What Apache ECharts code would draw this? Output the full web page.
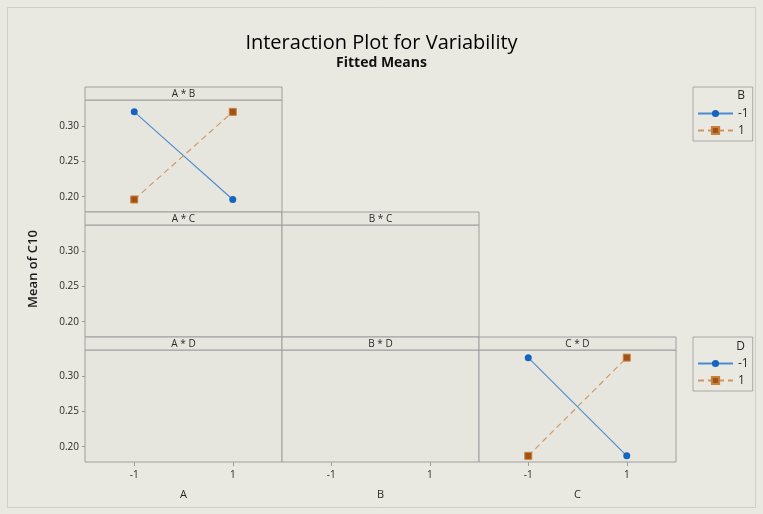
<!DOCTYPE html>
<html>
<head>
<meta charset="utf-8">
<script src="https://cdn.jsdelivr.net/npm/echarts@6/dist/echarts.min.js"></script>
<style>
  html, body { margin: 0; padding: 0; background: #E9E9E2; }
  #chart { width: 763px; height: 514px; }
</style>
</head>
<body>
<div id="chart"></div>
<script>
// Factor levels on every x axis
const xLevels = [-1, 1];
const xTickValues = [-1, 1];
const yTickValues = [0.20, 0.25, 0.30];
const factorNames = ['A', 'B', 'C'];
const legendLevels = ['-1', '1'];

// Fitted means of C10 (only A*B and C*D are estimable)
const meansAB_Bneg = [0.320, 0.196];
const meansAB_Bpos = [0.196, 0.320];
const meansCD_Dneg = [0.326, 0.187];
const meansCD_Dpos = [0.187, 0.326];

// Panel grid: rows are the second factor (B, C, D), columns the first (A, B, C)
const panels = [
  { row: 0, col: 0, label: 'A * B', neg: meansAB_Bneg, pos: meansAB_Bpos },
  { row: 1, col: 0, label: 'A * C' },
  { row: 1, col: 1, label: 'B * C' },
  { row: 2, col: 0, label: 'A * D' },
  { row: 2, col: 1, label: 'B * D' },
  { row: 2, col: 2, label: 'C * D', neg: meansCD_Dneg, pos: meansCD_Dpos }
];

// Layout
const colLeft = [85, 282, 479];
const colW = 197;
const headTop = [87, 212, 337];
const headH = 13;
const plotH = 112;
const yMin = 0.1783, yMax = 0.3368;

const frameColor = '#9E9E9E';
const panelBg = '#E7E6DE';
const textColor = '#2A2A2A';

const grids = [], xAxes = [], yAxes = [], series = [], graphics = [];

panels.forEach((p, i) => {
  const left = colLeft[p.col];
  const top = headTop[p.row] + headH;
  const bottomRow = p.row === 2;
  const firstCol = p.col === 0;

  grids.push({
    left: left, top: top, width: colW, height: plotH,
    show: true, backgroundColor: panelBg, borderColor: frameColor, borderWidth: 1
  });

  xAxes.push({
    type: 'value', gridIndex: i, min: -2, max: 2, position: 'bottom',
    splitLine: { show: false },
    axisLine: { show: false, onZero: false },
    axisTick: { show: bottomRow, length: 4, customValues: xTickValues, lineStyle: { color: frameColor } },
    axisLabel: { show: bottomRow, customValues: xTickValues, fontSize: 10, color: textColor, margin: 8,
                 fontFamily: 'Open Sans' },
    name: bottomRow ? factorNames[p.col] : '',
    nameLocation: 'middle', nameGap: 27,
    nameTextStyle: { fontSize: 11, color: textColor, fontFamily: 'Open Sans' }
  });

  yAxes.push({
    type: 'value', gridIndex: i, min: yMin, max: yMax, position: 'left',
    splitLine: { show: false },
    axisLine: { show: false, onZero: false },
    axisTick: { show: firstCol, length: 3, customValues: yTickValues, lineStyle: { color: frameColor } },
    axisLabel: { show: firstCol, customValues: yTickValues, fontSize: 10, color: textColor, margin: 6,
                 fontFamily: 'Open Sans', formatter: v => v.toFixed(2) }
  });

  // Panel header strip
  graphics.push({
    type: 'rect', silent: true,
    shape: { x: left, y: headTop[p.row], width: colW, height: headH },
    style: { fill: panelBg, stroke: frameColor, lineWidth: 1 }
  });
  graphics.push({
    type: 'text', silent: true,
    x: left + colW / 2, y: headTop[p.row] + headH / 2 + 0.5,
    style: { text: p.label, fill: textColor, font: '10px "Open Sans"', align: 'center', verticalAlign: 'middle' }
  });

  if (p.neg) {
    series.push({
      name: legendLevels[0], type: 'line', xAxisIndex: i, yAxisIndex: i,
      data: xLevels.map((x, k) => [x, p.neg[k]]),
      symbol: 'circle', symbolSize: 7,
      lineStyle: { color: '#4A8BD0', width: 1.1 },
      itemStyle: { color: '#1565C0' },
      z: 3
    });
    series.push({
      name: legendLevels[1], type: 'line', xAxisIndex: i, yAxisIndex: i,
      data: xLevels.map((x, k) => [x, p.pos[k]]),
      symbol: 'rect', symbolSize: 7,
      lineStyle: { color: '#D09560', width: 1.1, type: [6, 4] },
      itemStyle: { color: '#A0521A', borderColor: '#C8823C', borderWidth: 1 },
      z: 3
    });
  }
});

// Legend titles
graphics.push({
  type: 'text', silent: true, x: 745, y: 96,
  style: { text: 'B', fill: textColor, font: '12px "Open Sans"', align: 'right', verticalAlign: 'middle' }
});
graphics.push({
  type: 'text', silent: true, x: 745, y: 347,
  style: { text: 'D', fill: textColor, font: '12px "Open Sans"', align: 'right', verticalAlign: 'middle' }
});

// Y axis title
graphics.push({
  type: 'text', silent: true, x: 33, y: 269, rotation: Math.PI / 2,
  style: { text: 'Mean of C10', fill: '#1A1A1A', font: '600 13px "Open Sans"', align: 'center', verticalAlign: 'middle' }
});

// Outer frame
graphics.push({
  type: 'rect', silent: true, z: -1,
  shape: { x: 7.5, y: 7.5, width: 748, height: 500 },
  style: { fill: 'none', stroke: '#CFCFC8', lineWidth: 1 }
});

const legendBase = {
  orient: 'vertical', left: 693,
  itemWidth: 35, itemHeight: 9, itemGap: 4,
  padding: [20, 4, 4, 4],
  borderColor: '#A8A8A8', borderWidth: 1, backgroundColor: 'transparent',
  data: legendLevels, selectedMode: false,
  textStyle: { fontSize: 12, color: textColor, fontFamily: 'Open Sans', lineHeight: 13 }
};

const chart = echarts.init(document.getElementById('chart'), null, { renderer: 'canvas' });
chart.setOption({
  animation: false,
  backgroundColor: '#E9E9E2',
  title: {
    text: 'Interaction Plot for Variability',
    subtext: 'Fitted Means',
    left: 'center', top: 28, itemGap: 3,
    textStyle: { fontSize: 20, fontWeight: 500, color: '#000', fontFamily: 'Open Sans' },
    subtextStyle: { fontSize: 14, fontWeight: 'bold', color: '#111', fontFamily: 'Open Sans' }
  },
  legend: [
    Object.assign({}, legendBase, { top: 87 }),
    Object.assign({}, legendBase, { top: 337 })
  ],
  grid: grids,
  xAxis: xAxes,
  yAxis: yAxes,
  series: series,
  graphic: graphics
});
</script>
</body>
</html>
